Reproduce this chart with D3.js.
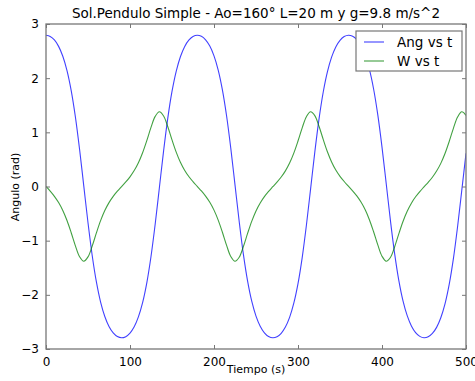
<!DOCTYPE html>
<html><head><meta charset="utf-8">
<script src="https://cdn.jsdelivr.net/npm/d3@7"></script>
<style>
html,body{margin:0;padding:0;background:#fff;}
text{font-family:"DejaVu Sans",sans-serif;fill:#000;}
</style></head>
<body><svg id="c" width="475" height="381"></svg>
<script>
// sample times (s)
const tiempo = d3.range(0, 501, 5);
// angle (rad)
const angulo = [2.793,2.771,2.705,2.587,2.404,2.139,1.770,1.283,0.682,0.006,
-0.670,-1.273,-1.762,-2.133,-2.400,-2.585,-2.704,-2.771,-2.793,-2.772,
-2.707,-2.590,-2.408,-2.144,-1.778,-1.293,-0.693,-0.018,0.658,1.263,
1.755,2.127,2.396,2.582,2.702,2.770,2.793,2.773,2.709,2.593,
2.412,2.150,1.785,1.302,0.705,0.031,-0.647,-1.254,-1.747,-2.122,
-2.392,-2.579,-2.701,-2.769,-2.793,-2.774,-2.710,-2.595,-2.416,-2.155,
-1.793,-1.312,-0.716,-0.043,0.635,1.244,1.740,2.116,2.388,2.577,
2.699,2.768,2.792,2.774,2.712,2.598,2.420,2.161,1.800,1.322,
0.728,0.055,-0.624,-1.234,-1.732,-2.111,-2.385,-2.574,-2.697,-2.767,
-2.792,-2.775,-2.713,-2.601,-2.424,-2.167,-1.808,-1.332,-0.739,-0.068,
0.612];
// angular velocity (rad/s)
const omega = [0.000,-0.085,-0.181,-0.296,-0.442,-0.628,-0.853,-1.095,-1.297,-1.379,
-1.300,-1.099,-0.857,-0.631,-0.445,-0.298,-0.182,-0.087,-0.001,0.084,
0.179,0.294,0.439,0.624,0.848,1.091,1.294,1.379,1.302,1.103,
0.861,0.635,0.448,0.301,0.184,0.089,0.003,-0.082,-0.177,-0.291,
-0.436,-0.620,-0.844,-1.087,-1.292,-1.379,-1.305,-1.108,-0.866,-0.639,
-0.451,-0.303,-0.186,-0.090,-0.004,0.081,0.175,0.289,0.433,0.617,
0.840,1.083,1.289,1.379,1.308,1.112,0.870,0.642,0.454,0.305,
0.188,0.092,0.006,-0.079,-0.173,-0.287,-0.430,-0.613,-0.836,-1.078,
-1.286,-1.379,-1.311,-1.116,-0.874,-0.646,-0.457,-0.308,-0.190,-0.093,
-0.007,0.078,0.171,0.285,0.427,0.609,0.831,1.074,1.283,1.379,
1.313];
const xTicks = [0,100,200,300,400,500];
const yTicks = [-3,-2,-1,0,1,2,3];
const seriesNames = ["Ang vs t","W vs t"];
const seriesColors = ["#0000ff","#008000"];
const title = "Sol.Pendulo Simple - Ao=160\u00b0 L=20 m y g=9.8 m/s^2";
const xLabel = "Tiempo (s)";
const yLabel = "Angulo (rad)";

const L=46, R=466, T=24, B=349;
const svg = d3.select("#c");
const x = d3.scaleLinear().domain([0,500]).range([L,R]);
const y = d3.scaleLinear().domain([-3,3]).range([B,T]);
const fmt = d => (d<0? "\u2212"+Math.abs(d) : String(d));

svg.append("clipPath").attr("id","pc").append("rect")
  .attr("x",L).attr("y",T).attr("width",R-L).attr("height",B-T);

const series = [angulo, omega];
const line = d3.line().x((d,i)=>x(tiempo[i])).y(d=>y(d)).curve(d3.curveCatmullRom);
series.forEach((s,j)=>{
  svg.append("path").datum(s).attr("d",line).attr("fill","none")
    .attr("stroke",seriesColors[j]).attr("stroke-opacity",0.75)
    .attr("stroke-width",1.1).attr("clip-path","url(#pc)");
});

// frame
svg.append("rect").attr("x",L).attr("y",T).attr("width",R-L).attr("height",B-T)
  .attr("fill","none").attr("stroke","#777").attr("stroke-width",1.3);

// axes with inward ticks
const ax = (g, axis) => { g.call(axis); g.select(".domain").remove();
  g.selectAll(".tick line").attr("stroke","#777"); g.selectAll(".tick text").attr("font-size",12).attr("font-family","DejaVu Sans").attr("fill","#222"); };
svg.append("g").attr("transform",`translate(0,${B})`)
  .call(g=>ax(g, d3.axisBottom(x).tickValues(xTicks).tickFormat(fmt).tickSizeInner(-4).tickSizeOuter(0).tickPadding(8)));
svg.append("g").attr("transform",`translate(0,${T})`)
  .call(g=>ax(g, d3.axisTop(x).tickValues(xTicks).tickFormat("").tickSizeInner(-4).tickSizeOuter(0)));
svg.append("g").attr("transform",`translate(${L},0)`)
  .call(g=>ax(g, d3.axisLeft(y).tickValues(yTicks).tickFormat(fmt).tickSizeInner(-4).tickSizeOuter(0).tickPadding(7)));
svg.append("g").attr("transform",`translate(${R},0)`)
  .call(g=>ax(g, d3.axisRight(y).tickValues(yTicks).tickFormat("").tickSizeInner(-4).tickSizeOuter(0)));

svg.append("text").attr("x",256).attr("y",18).attr("text-anchor","middle")
  .attr("font-size",13.5).attr("fill","#222").text(title);
svg.append("text").attr("x",256).attr("y",373).attr("text-anchor","middle")
  .attr("font-size",11).attr("fill","#222").text(xLabel);
svg.append("text").attr("transform","translate(19,187) rotate(-90)").attr("text-anchor","middle")
  .attr("font-size",11).attr("fill","#222").text(yLabel);

// legend
const lg = svg.append("g");
lg.append("rect").attr("x",356).attr("y",31).attr("width",106).attr("height",40)
  .attr("fill","#fff").attr("stroke","#777").attr("stroke-width",1.2);
seriesNames.forEach((n,j)=>{
  const yy = 42 + j*19;
  lg.append("line").attr("x1",364).attr("x2",384).attr("y1",yy).attr("y2",yy)
    .attr("stroke",seriesColors[j]).attr("stroke-opacity",0.75).attr("stroke-width",1.1);
  lg.append("text").attr("x",397).attr("y",yy+5).attr("font-size",13.5).attr("fill","#222").text(n);
});
</script></body></html>
